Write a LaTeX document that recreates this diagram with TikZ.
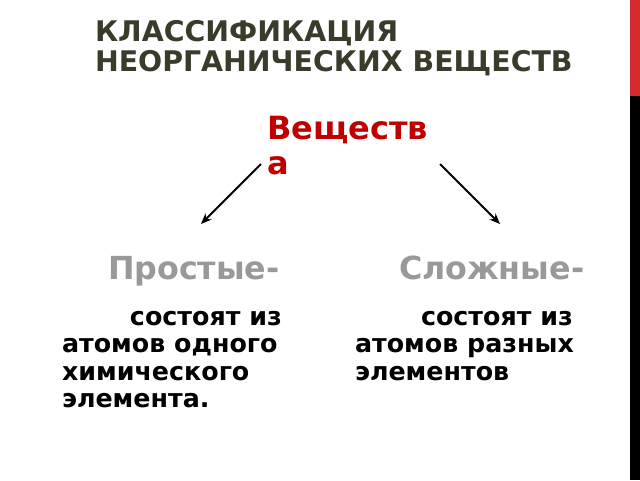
\documentclass[tikz,border=0pt]{standalone}
\usepackage{fontspec}
\setmainfont{DejaVu Sans}
\usetikzlibrary{arrows.meta}
\definecolor{titlegray}{HTML}{3B3B2B}
\definecolor{darkred}{HTML}{C00000}
\definecolor{barred}{HTML}{D52B2F}
\definecolor{headgray}{HTML}{999999}
\begin{document}
\begin{tikzpicture}[x=0.75pt,y=-0.75pt,
  every node/.style={inner sep=0pt, outer sep=0pt, anchor=north west, align=left},
  title/.style={font=\bfseries\fontsize{21.3}{22.5}\selectfont, text=titlegray},
  root/.style={font=\bfseries\fontsize{24}{26}\selectfont, text=darkred},
  kind/.style={font=\bfseries\fontsize{23.8}{25}\selectfont, text=headgray},
  note/.style={font=\bfseries\fontsize{19}{20.6}\selectfont, text=black},
  branch/.style={-{Stealth[length=8pt,width=6.5pt]}, line width=1.5pt}]
  \useasboundingbox[fill=white] (0,0) rectangle (640,480);
  % side bar
  \fill[barred] (630,0) rectangle (640,96);
  \fill[black] (630,96) rectangle (640,480);
  % heading
  \node[title] (head) at (95,20) {КЛАССИФИКАЦИЯ\\НЕОРГАНИЧЕСКИХ ВЕЩЕСТВ};
  \node[root] (subst) at (267,116) {Веществ\\а};
  \coordinate (l0) at (261,164);
  \coordinate (l1) at (201,224);
  \coordinate (r0) at (440,164);
  \coordinate (r1) at (500,224);
  \draw[branch] (l0) -- (l1);
  \draw[branch] (r0) -- (r1);
  % two kinds
  \node[kind] (simple) at (108,256) {Простые-};
  \node[kind] (complex) at (399,256) {Сложные-};
  \node[note] (simpletext) at (62,311) {\hspace*{51pt}состоят из\\атомов одного\\химического\\элемента.};
  \node[note] (complextext) at (355,311) {\hspace*{49.5pt}состоят из\\атомов разных\\элементов};
\end{tikzpicture}
\end{document}
